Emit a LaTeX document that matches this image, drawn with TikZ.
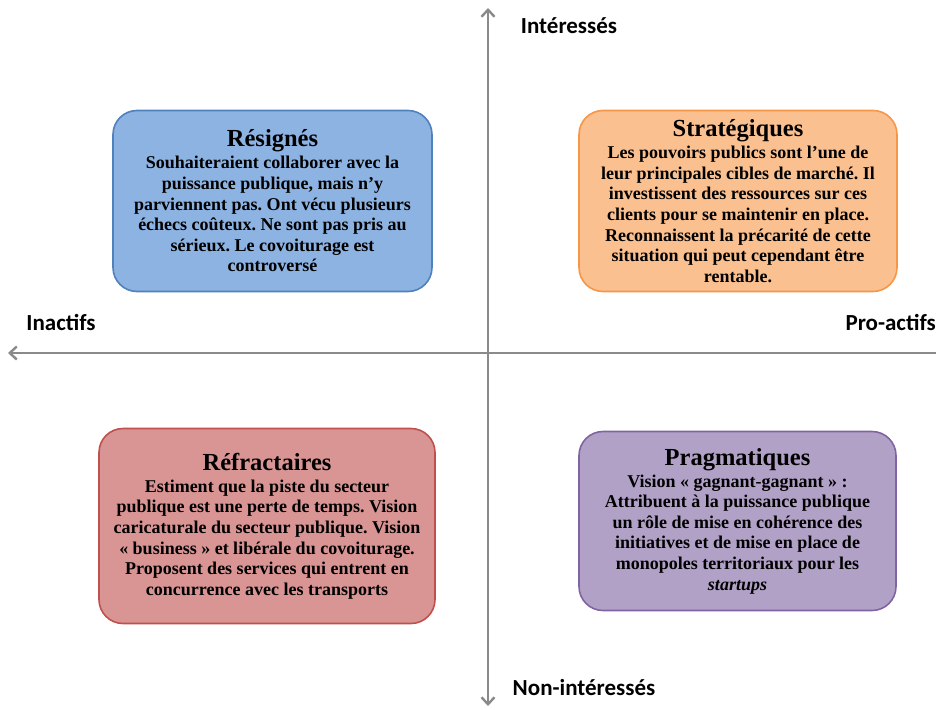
\documentclass[tikz,border=0pt]{standalone}
\usepackage{fontspec}
\setmainfont{Liberation Serif}
\newfontfamily\axisfont{Carlito}
\usetikzlibrary{arrows.meta}
\frenchspacing
\definecolor{axisgray}{HTML}{8A8A8A}
\definecolor{bluefill}{HTML}{8DB3E2}
\definecolor{blueline}{HTML}{4F81BD}
\definecolor{orangefill}{HTML}{FAC090}
\definecolor{orangeline}{HTML}{F79646}
\definecolor{redfill}{HTML}{D99594}
\definecolor{redline}{HTML}{C0504D}
\definecolor{purplefill}{HTML}{B2A1C7}
\definecolor{purpleline}{HTML}{8064A2}
\tikzset{
  axisline/.style={draw=axisgray, line width=2.4pt},
  tip/.style={-{Straight Barb[length=7pt,width=13pt,line width=2.4pt]}},
  axislabel/.style={font=\axisfont\bfseries\fontsize{23}{26}\selectfont, inner sep=0pt},
  quad/.style={rounded corners=24pt, line width=1.6pt, align=center, inner sep=0pt,
    font=\bfseries\fontsize{18}{20.6}\selectfont}
}
\newcommand{\qtitle}[1]{{\fontsize{24.5}{24}\selectfont #1}\\[1.5pt]}
\begin{document}
\begin{tikzpicture}[x=1pt,y=-1pt]
\useasboundingbox (0,0) rectangle (936,709);
% axes
\coordinate (top) at (488,8);
\coordinate (bottom) at (488,706);
\coordinate (left) at (8,353);
\coordinate (right) at (936,353);
\coordinate (c) at (488,353);
\draw[axisline,tip] (c) -- (top);
\draw[axisline,tip] (c) -- (bottom);
\draw[axisline,tip] (right) -- (left);
% labels
\node[axislabel] (lint) at (569,26) {Intéressés};
\node[axislabel] (lnon) at (584,688) {Non-intéressés};
\node[axislabel] (linact) at (61,322) {Inactifs};
\node[axislabel, anchor=east] (lpro) at (936,322) {Pro-actifs};
% boxes
\node[quad, fill=bluefill, draw=blueline, minimum width=319pt, minimum height=181pt]
  (resig) at (272.5,201) {\qtitle{Résignés}Souhaiteraient collaborer avec la\\puissance publique, mais n’y\\parviennent pas. Ont vécu plusieurs\\échecs coûteux. Ne sont pas pris au\\sérieux. Le covoiturage est\\controversé};
\node[quad, fill=orangefill, draw=orangeline, minimum width=318pt, minimum height=181pt]
  (strat) at (738,201) {\qtitle{Stratégiques}Les pouvoirs publics sont l’une de\\leur principales cibles de marché. Il\\investissent des ressources sur ces\\clients pour se maintenir en place.\\Reconnaissent la précarité de cette\\situation qui peut cependant être\\rentable.};
\node[quad, fill=redfill, draw=redline, minimum width=336pt, minimum height=195pt]
  (refr) at (267,526) {\qtitle{Réfractaires}Estiment que la piste du secteur\\publique est une perte de temps. Vision\\caricaturale du secteur publique. Vision\\« business » et libérale du covoiturage.\\Proposent des services qui entrent en\\concurrence avec les transports};
\node[quad, fill=purplefill, draw=purpleline, minimum width=317pt, minimum height=179pt]
  (prag) at (737.5,521) {\qtitle{Pragmatiques}Vision « gagnant-gagnant » :\\Attribuent à la puissance publique\\un rôle de mise en cohérence des\\initiatives et de mise en place de\\monopoles territoriaux pour les\\\textit{startups}};
\end{tikzpicture}
\end{document}
